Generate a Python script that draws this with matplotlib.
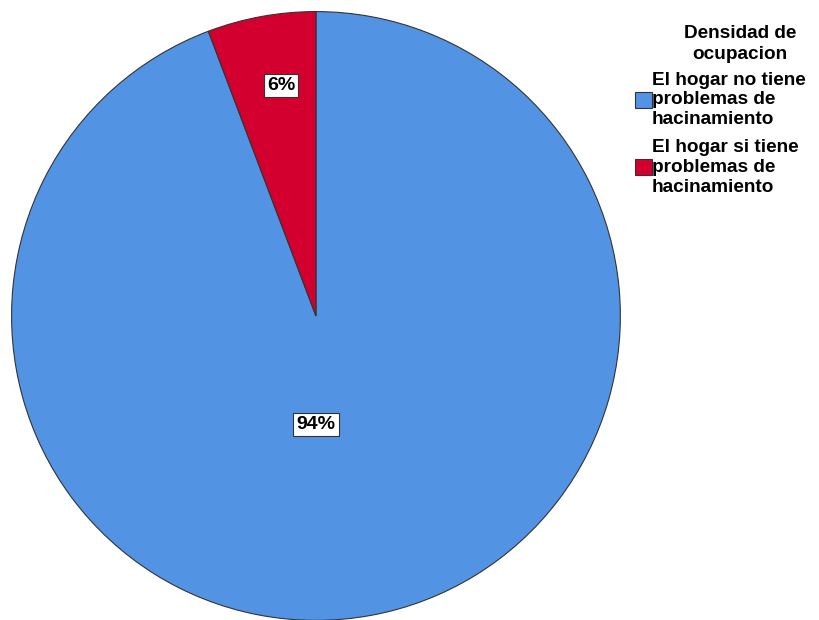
import matplotlib.pyplot as plt
import numpy as np

plt.rcParams['font.family'] = ['Liberation Sans', 'DejaVu Sans']

categories = ['El hogar no tiene\nproblemas de\nhacinamiento',
              'El hogar si tiene\nproblemas de\nhacinamiento']
values = [94.25, 5.75]
pct_labels = ['94%', '6%']
colors = ['#5294E3', '#D3002F']
legend_title = 'Densidad de\nocupacion'

fig = plt.figure(figsize=(8.19, 6.2), dpi=100)
ax = fig.add_axes([0.0134, -0.0016, 0.7448, 0.9839])

wedges, _ = ax.pie(values, colors=colors, startangle=90, counterclock=False,
                   radius=1, wedgeprops=dict(edgecolor='#333333', linewidth=0.8))
ax.set_xlim(-1.002, 1.002)
ax.set_ylim(-1.002, 1.002)
ax.set_aspect('auto')
ax.axis('off')

# percent boxes (SPSS-style placement)
label_pos = [(0.0, -0.357), (-0.115, 0.757)]
for (x, y), txt in zip(label_pos, pct_labels):
    ax.text(x, y, txt, ha='center', va='center', fontsize=14, fontweight='bold',
            bbox=dict(boxstyle='square,pad=0.16', facecolor='white',
                      edgecolor='#333333', linewidth=0.8))

fig.text(740 / 819, 1 - 44 / 620, legend_title, ha='center', va='center',
         fontsize=13.7, fontweight='bold', linespacing=1.25)
leg = fig.legend(wedges, categories, loc='upper left',
                 bbox_to_anchor=(627 / 819, 1 - 64 / 620), frameon=False,
                 handlelength=0.9, handleheight=0.9,
                 handletextpad=0.0, labelspacing=0.56, borderaxespad=0,
                 prop=dict(weight='bold', size=13.7))
for t in leg.get_texts():
    t.set_linespacing(1.22)

fig.savefig('out.png', dpi=100)
